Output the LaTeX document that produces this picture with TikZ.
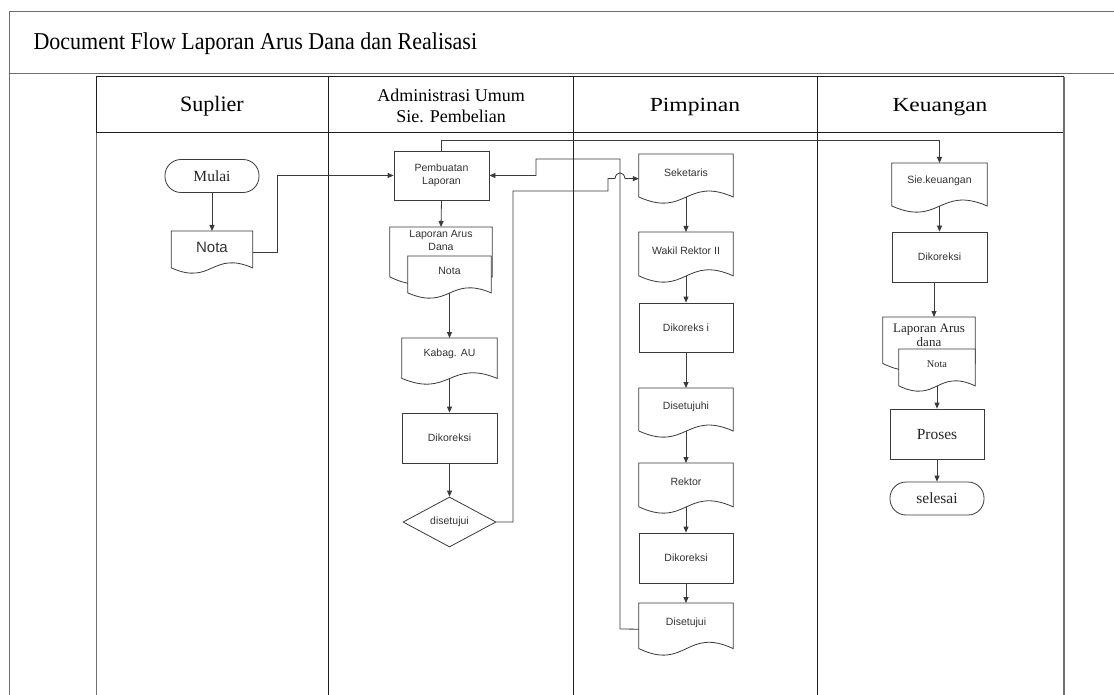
\documentclass[tikz,border=0pt]{standalone}
\usepackage{fontspec}
\usepackage{graphicx}
\setmainfont{Liberation Serif}
\newfontfamily\arialf{Liberation Sans}
\usetikzlibrary{calc,arrows.meta,shapes.geometric}
\definecolor{linec}{HTML}{3A3A3A}
\definecolor{lanec}{HTML}{1E1E1E}
\definecolor{framec}{HTML}{6E6E6E}
\definecolor{txtc}{HTML}{333333}
\tikzset{
  shp/.style={draw=linec, line width=0.8pt, fill=white},
  conn/.style={draw=linec, line width=0.8pt},
  arr/.style={conn, -{Triangle[length=6pt,width=5pt]}},
  sml/.style={font=\arialf\fontsize{10.5}{12.5}\selectfont, text=txtc, align=center},
  smlbig/.style={font=\arialf\fontsize{15}{17}\selectfont, text=txtc},
  srf/.style={font=\fontsize{15.5}{18}\selectfont, text=black!85},
  srfmid/.style={font=\fontsize{13}{14}\selectfont, text=black!85, align=center},
  srfsm/.style={font=\fontsize{10.3}{12}\selectfont, text=black!85},
  procbox/.style={shp, rectangle, inner sep=0pt, minimum width=95pt, minimum height=49pt},
  termbox/.style={shp, rectangle, rounded corners=16pt, inner sep=0pt, minimum width=94pt, minimum height=33pt},
  hdr/.style={font=\fontsize{20}{24}\selectfont, anchor=base},
}
% name, cx, top, width, height, text fraction, text style, text
\newcommand{\docnode}[8]{%
  \node[inner sep=0pt, minimum width=#4pt, minimum height=#5pt, anchor=north] (#1) at (#2,#3) {};
  \draw[shp] (#1.north west) -- (#1.north east) -- ($(#1.north east)!0.87!(#1.south east)$)
    .. controls ($(#1.north)!0.45!(#1.south)$) and ($(#1.north)!1.3!(#1.south)$) ..
    ($(#1.north west)!0.87!(#1.south west)$) -- cycle;
  \coordinate (#1-b) at ($(#1.north)!0.87!(#1.south)$);
  \node[#7] (#1-t) at ($(#1.north)!#6!(#1.south)$) {#8};
}
\begin{document}
\begin{tikzpicture}[x=1pt,y=-1pt]
\useasboundingbox[fill=white] (0,0) rectangle (1114,695);

% ---- frame and title
\draw[framec, line width=1pt] (9,12) -- (1114,12);
\draw[framec, line width=1pt] (9,12) -- (9,695);
\draw[framec, line width=1pt] (9,74) -- (1114,74);
\node[font=\fontsize{22}{26}\selectfont, anchor=base west] (title) at (30,50) {\scalebox{1}[1.1]{Document Flow Laporan Arus Dana dan Realisasi}};

% ---- lanes
\draw[lanec, line width=1pt] (96,77) rectangle (1063,133);
\draw[framec, line width=1pt] (96,133) -- (96,695);
\draw[lanec, line width=1pt] (328,77) -- (328,695);
\draw[lanec, line width=1pt] (573,77) -- (573,695);
\draw[lanec, line width=1pt] (817,77) -- (817,695);
\draw[framec, line width=1.6pt] (1064,77) -- (1064,695);
\node[hdr, font=\fontsize{22}{26}\selectfont] (hs) at (212,112) {Suplier};
\node[font=\fontsize{18}{21}\selectfont, align=center] (ha) at (451,106) {Administrasi Umum\\Sie. Pembelian};
\node[hdr] (hp) at (695,112) {\scalebox{1.18}[1]{Pimpinan}};
\node[hdr] (hk) at (940,112) {\scalebox{1.17}[1]{Keuangan}};

% ---- Suplier lane
\node[termbox, srf] (mulai) at (212,176) {Mulai};
\docnode{nota1}{212}{231}{81}{42}{0.38}{smlbig}{Nota}

% ---- Administrasi lane
\node[procbox, sml] (pl) at (441.5,175.5) {Pembuatan\\Laporan};
\docnode{lad1}{441}{227}{102}{57}{0.23}{sml}{Laporan Arus\\Dana}
\docnode{nota2}{449.5}{256}{83}{42}{0.36}{sml}{Nota}
\docnode{kab}{449.5}{338}{95}{46}{0.33}{sml}{Kabag. AU}
\node[procbox, sml, minimum height=50pt] (dk1) at (449.5,438) {Dikoreksi};
\node[shp, diamond, aspect=2, inner sep=0pt, minimum width=93pt, minimum height=50pt, sml] (dis) at (449.5,522) {disetujui};

% ---- Pimpinan lane
\docnode{sek}{686}{154}{94}{49}{0.37}{sml}{Seketaris}
\docnode{wak}{686}{232}{94}{50}{0.38}{sml}{Wakil Rektor II}
\node[procbox, sml, minimum width=94pt] (dk2) at (686,327.5) {Dikoreks i};
\docnode{dsh}{686}{388}{94}{49}{0.38}{sml}{Disetujuhi}
\docnode{rek}{686}{463}{94}{50}{0.38}{sml}{Rektor}
\node[procbox, sml, minimum width=94pt, minimum height=50pt] (dk4) at (686,558) {Dikoreksi};
\docnode{dsj}{686}{603}{94}{52}{0.37}{sml}{Disetujui}

% ---- Keuangan lane
\docnode{siek}{939.5}{163}{95}{49}{0.37}{sml}{Sie.keuangan}
\node[procbox, sml, minimum height=50pt] (dk3) at (939.5,257) {Dikoreksi};
\docnode{lad2}{929}{317}{92}{53}{0.34}{srfmid}{Laporan Arus\\dana}
\docnode{nota3}{937}{349}{76}{42}{0.36}{srfsm}{Nota}
\node[procbox, srf, minimum width=94pt, minimum height=50pt] (pro) at (937,434) {Proses};
\node[termbox, srf] (sel) at (937,498.5) {selesai};

% ---- connectors
\draw[arr] (mulai.south) -- (nota1.north);
\draw[arr] (nota1.east) -- ++(24.5,0) |- (pl.west);
\draw[arr] (pl.south) -- (lad1.north);
\draw[arr] (nota2-b) -- (kab.north);
\draw[arr] (kab-b) -- (dk1.north);
\draw[arr] (dk1.south) -- (dis.north);
\draw[arr] (dis.east) -- (513,522) -- (513,191) -- (608,191) -- (608,178.5) -- (615,178.5)
  .. controls (616,171) and (624,171) .. (625,178.5) -- (sek.west);
\draw[arr] (dsj.west) -- (620,629) -- (620,159) -- (536,159) -- (536,175.5) -- (pl.east);
\draw[arr] (pl.north) -- ++(0,-10) -| (siek.north);

\draw[arr] (sek-b) -- (wak.north);
\draw[arr] (wak-b) -- (dk2.north);
\draw[arr] (dk2.south) -- (dsh.north);
\draw[arr] (dsh-b) -- (rek.north);
\draw[arr] (rek-b) -- (dk4.north);
\draw[arr] (dk4.south) -- (dsj.north);

\draw[arr] (siek-b) -- (dk3.north);
\coordinate (k1) at ($(dk3.south)+(-5.5,0)$);
\draw[arr] (k1) -- (k1 |- lad2.north);
\draw[arr] (nota3-b) -- (pro.north);
\draw[arr] (pro.south) -- (sel.north);
\end{tikzpicture}
\end{document}
